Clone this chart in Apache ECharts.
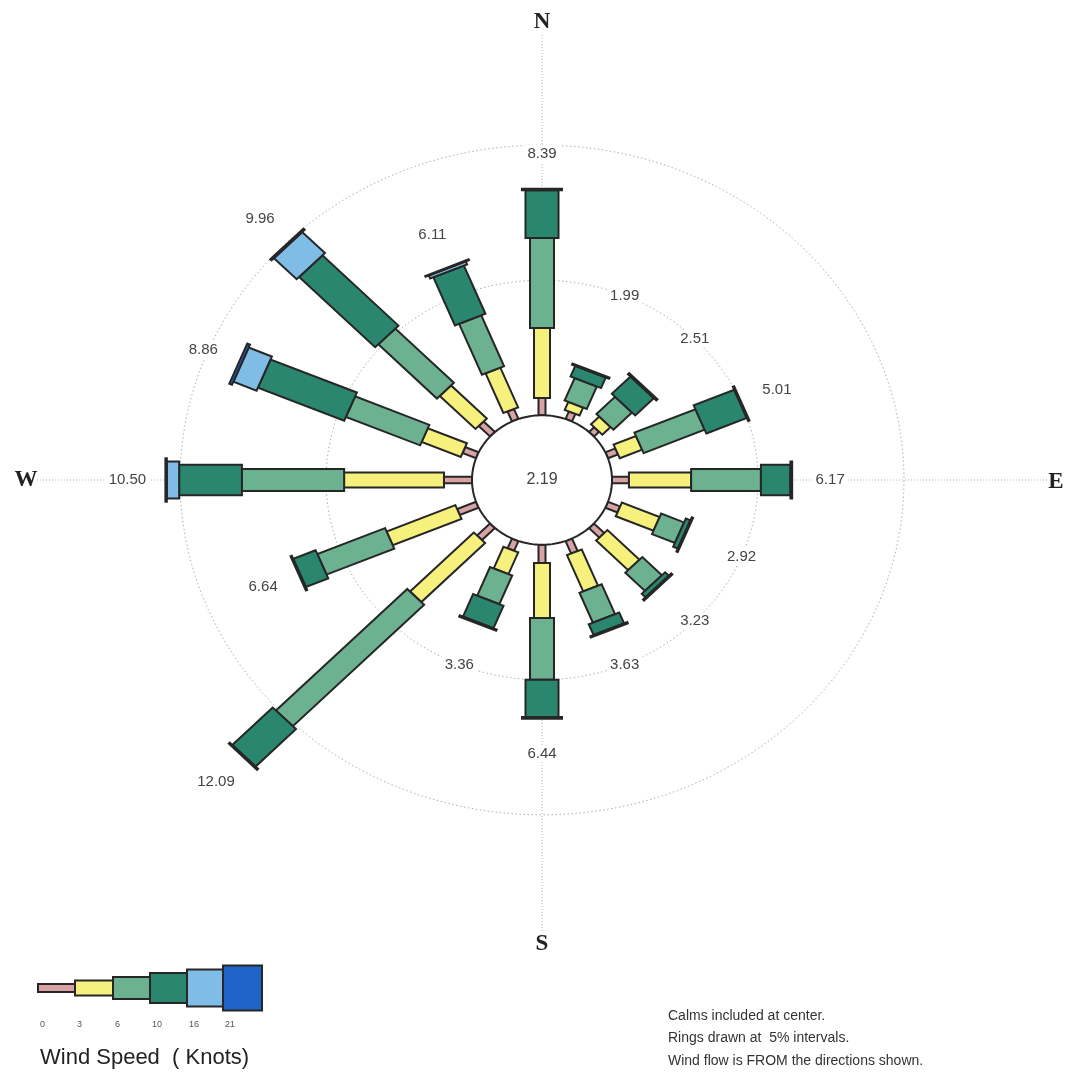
<!DOCTYPE html>
<html><head><meta charset="utf-8">
<script src="https://cdn.jsdelivr.net/npm/echarts@6/dist/echarts.min.js"></script>
<style>html,body{margin:0;padding:0;background:#fff}#chart{width:1069px;height:1078px}</style>
</head><body><div id="chart"></div>
<script>
// ---------------- DATA ----------------
const directions = ['N','NNE','NE','ENE','E','ESE','SE','SSE','S','SSW','SW','WSW','W','WNW','NW','NNW'];
const speedClasses = ['0-3','3-6','6-10','10-16','16-21','21+'];
const legendTicks = ['0','3','6','10','16','21'];
const calmPct = 2.19;
const totals = [8.39,1.99,2.51,5.01,6.17,2.92,3.23,3.63,6.44,3.36,12.09,6.64,10.50,8.86,9.96,6.11];
const pct0to3   = [0.64,0.30,0.25,0.37,0.58,0.45,0.50,0.50,0.68,0.39,0.63,0.70,0.96,0.50,0.55,0.40];
const pct3to6   = [2.59,0.32,0.40,0.83,2.13,1.40,1.55,1.45,2.03,0.87,3.09,2.55,3.42,1.45,1.73,1.59];
const pct6to10  = [3.33,0.90,0.90,2.26,2.39,0.85,0.95,1.20,2.29,1.15,6.36,2.51,3.50,2.75,2.84,2.04];
const pct10to16 = [1.77,0.42,0.90,1.50,1.01,0.17,0.18,0.43,1.38,0.90,1.96,0.83,2.15,3.20,3.68,1.93];
const pct16to21 = [0.06,0.05,0.06,0.05,0.06,0.05,0.05,0.05,0.06,0.05,0.05,0.05,0.42,0.86,1.10,0.12];
const pct21up   = [0,0,0,0,0,0,0,0,0,0,0,0,0.05,0.10,0.06,0.03];
const ringPcts = [5, 10];
const compass = ['N','E','S','W'];

// ---------------- STYLE / LAYOUT ----------------
const classSeries = [pct0to3, pct3to6, pct6to10, pct10to16, pct16to21, pct21up];
const COLORS = ['#d9a3a6','#f6f07c','#6cb290','#2b8670','#80bde6','#1f63c8'];
const WIDTHS = [7, 16, 24, 33, 40, 47];
const CALM_R = 70;     // calm circle radius (units)
const K = 29.2;        // units per percent
const YSQ = 0.925;     // vertical squish of the picture
const CX = 542, CY = 480, W = 1069, H = 1078;
const OUTLINE = '#262626';

const chart = echarts.init(document.getElementById('chart'));

function polar(r, thDeg){
  const t = thDeg*Math.PI/180;
  return [r*Math.sin(t), r*Math.cos(t)];
}

// cumulative stacks
const cum = directions.map(()=>0);
const barSeries = classSeries.map((arr, k) => {
  const data = directions.map((d, i) => {
    const a = cum[i], b = cum[i] + arr[i];
    cum[i] = b;
    return [i, a, b];
  });
  return {
    type:'custom', name: speedClasses[k], coordinateSystem:'cartesian2d', silent:true,
    data,
    renderItem: function(params, api){
      const d = api.value(0), a = api.value(1), b = api.value(2);
      if (!(b - a > 0)) return;
      const t = d*Math.PI/8;
      const s = Math.sin(t), c = Math.cos(t);
      const r1 = CALM_R + a*K, r2 = CALM_R + b*K, hw = WIDTHS[k]/2;
      const pts = [
        [r1*s + hw*c, r1*c - hw*s],
        [r2*s + hw*c, r2*c - hw*s],
        [r2*s - hw*c, r2*c + hw*s],
        [r1*s - hw*c, r1*c + hw*s]
      ].map(p => api.coord(p));
      return {type:'polygon', shape:{points:pts}, style:{fill:COLORS[k], stroke:OUTLINE, lineWidth:2, lineJoin:'miter'}};
    }
  };
});

function ellipsePts(api, r){
  const pts = [];
  for (let i=0;i<=180;i++){ pts.push(api.coord(polar(r, i*2))); }
  return pts;
}

const backgroundSeries = {
  type:'custom', coordinateSystem:'cartesian2d', silent:true, data:[[0,0]],
  renderItem: function(params, api){
    const children = [];
    // cross axis lines
    const ends = [[0,482],[505,0],[0,-490],[-505,0]];
    ends.forEach(e => {
      const p0 = api.coord([0,0]), p1 = api.coord(e);
      children.push({type:'line', shape:{x1:p0[0],y1:p0[1],x2:p1[0],y2:p1[1]}, style:{stroke:'#b5b5b5', lineWidth:1, lineDash:[1,2]}});
    });
    ringPcts.forEach(p => {
      children.push({type:'polyline', shape:{points: ellipsePts(api, CALM_R + p*K)}, style:{stroke:'#b0b0b0', lineWidth:1, lineDash:[1.5,2.5], fill:null}});
    });
    return {type:'group', children};
  }
};

const calmSeries = {
  type:'custom', coordinateSystem:'cartesian2d', silent:true, data:[[0,0,calmPct]],
  renderItem: function(params, api){
    const pts = ellipsePts(api, CALM_R);
    const c = api.coord([0,0]);
    return {type:'group', children:[
      {type:'polygon', shape:{points:pts}, style:{fill:'#fff', stroke:OUTLINE, lineWidth:2}},
      {type:'text', x:c[0], y:c[1], style:{text: api.value(2).toFixed(2), fill:'#444', font:'16px "Liberation Sans", Arial, sans-serif', align:'center', verticalAlign:'middle'}}
    ]};
  }
};

const labelSeries = {
  type:'custom', coordinateSystem:'cartesian2d', silent:true,
  data: totals.map((v,i)=>[i, v]),
  renderItem: function(params, api){
    const i = api.value(0), v = api.value(1);
    const rp = v < 5 ? 5 : v + 1.3;
    const p = api.coord(polar(CALM_R + rp*K, i*22.5));
    return {type:'text', x:p[0], y:p[1], z2:10, style:{text: v.toFixed(2), fill:'#444', font:'15px "Liberation Sans", Arial, sans-serif', align:'center', verticalAlign:'middle', backgroundColor:'#fff', padding:[1,3]}};
  }
};

const compassSeries = {
  type:'custom', coordinateSystem:'cartesian2d', silent:true,
  data: compass.map((c,i)=>[i]),
  renderItem: function(params, api){
    const i = api.value(0);
    const pos = [[0,495],[514,-2],[0,-502],[-516,0]][i];
    const p = api.coord(pos);
    return {type:'text', x:p[0], y:p[1], style:{text: compass[i], fill:'#222', font:'bold 23px "Liberation Serif", "DejaVu Serif", serif', align:'center', verticalAlign:'middle'}};
  }
};

// legend graphics
const legendX = [38, 75, 113, 150, 187, 223, 262];
const legendH = [8, 15, 22, 30, 37, 45];
const graphics = [];
for (let k=0;k<6;k++){
  graphics.push({type:'rect', shape:{x:legendX[k], y:988-legendH[k]/2, width:legendX[k+1]-legendX[k], height:legendH[k]}, style:{fill:COLORS[k], stroke:OUTLINE, lineWidth:2}});
  graphics.push({type:'text', x:legendX[k]+2, y:1025, style:{text:legendTicks[k], fill:'#555', font:'9px "Liberation Sans", Arial, sans-serif', align:'left', verticalAlign:'middle'}});
}
graphics.push({type:'text', x:40, y:1058, style:{text:'Wind Speed  ( Knots)', fill:'#222', font:'22px "Liberation Sans", Arial, sans-serif', align:'left', verticalAlign:'middle'}});
['Calms included at center.','Rings drawn at  5% intervals.','Wind flow is FROM the directions shown.'].forEach((t,i)=>{
  graphics.push({type:'text', x:668, y:1016+i*22.5, style:{text:t, fill:'#333', font:'14px "Liberation Sans", Arial, sans-serif', align:'left', verticalAlign:'middle'}});
});

chart.setOption({
  animation:false,
  backgroundColor:'#fff',
  grid:{left:0, top:0, width:W, height:H},
  xAxis:{type:'value', min:-CX, max:W-CX, show:false},
  yAxis:{type:'value', min:-(H-CY)/YSQ, max:CY/YSQ, show:false},
  graphic: graphics,
  series:[backgroundSeries].concat(barSeries, [calmSeries, labelSeries, compassSeries])
});
</script></body></html>
